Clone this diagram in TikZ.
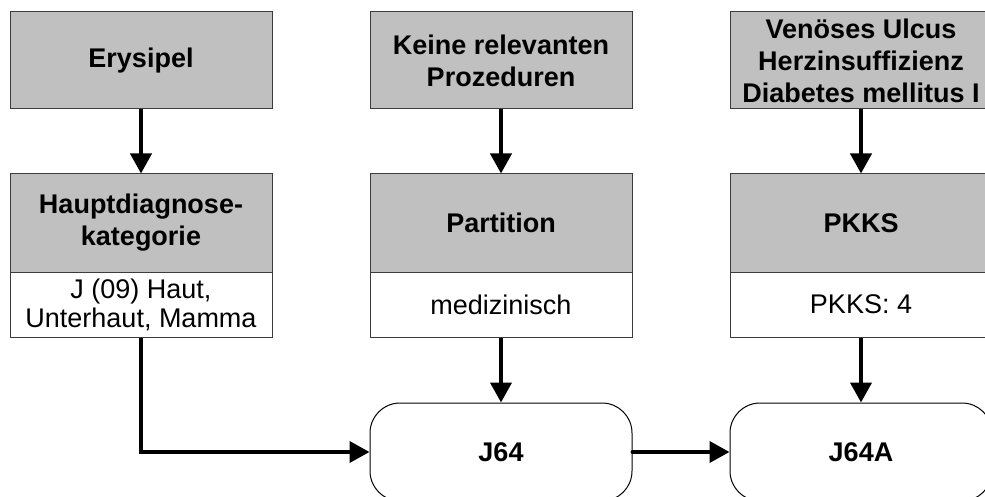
\documentclass[tikz,border=0pt]{standalone}
\usepackage{fontspec}
\setmainfont{Liberation Sans}
\usetikzlibrary{arrows.meta}
\definecolor{silv}{RGB}{192,192,192}
\definecolor{edge}{RGB}{60,60,60}
\begin{document}
\begin{tikzpicture}[x=1pt,y=-1pt,
  box/.style={draw=edge, line width=1pt, minimum width=262pt, inner sep=0pt, align=center},
  head/.style={box, fill=silv, font=\fontsize{27}{32}\selectfont\bfseries},
  val/.style={box, fill=white, font=\fontsize{27}{29}\selectfont},
  res/.style={draw=black, line width=1pt, minimum width=262pt, minimum height=98pt, rounded corners=30pt, inner sep=0pt, align=center, font=\fontsize{27}{32}\selectfont\bfseries},
  arr/.style={line width=4pt, -{Triangle[width=21pt,length=20pt]}}]
\useasboundingbox (0,0) rectangle (985,497);
\fill[white] (0,0) rectangle (985,497);
% left column
\node[head, minimum height=97pt] (erys) at (141,60.5) {Erysipel};
\node[head, minimum height=98pt] (hdk) at (141,223) {Hauptdiagnose-\\kategorie};
\node[val, minimum height=65pt] (hdkval) at (141,304.5) {J (09) Haut,\\Unterhaut, Mamma};
% middle column
\node[head, minimum height=97pt] (keine) at (501,60.5) {Keine relevanten\\Prozeduren};
\node[head, minimum height=98pt] (part) at (501,223) {Partition};
\node[val, minimum height=65pt] (partval) at (501,304.5) {medizinisch};
% right column
\node[head, minimum height=97pt] (venoes) at (861,60.5) {Venöses Ulcus\\Herzinsuffizienz\\Diabetes mellitus I};
\node[head, minimum height=98pt] (pkks) at (861,223) {PKKS};
\node[val, minimum height=65pt] (pkksval) at (861,304.5) {PKKS: 4};
% results
\node[res] (j64) at (501,452) {J64};
\node[res] (j64a) at (861,452) {J64A};
% connectors
\draw[arr] (erys.south) -- (hdk.north);
\draw[arr] (keine.south) -- (part.north);
\draw[arr] (venoes.south) -- (pkks.north);
\draw[arr] (partval.south) -- (j64.north);
\draw[arr] (pkksval.south) -- (j64a.north);
\draw[arr] (hdkval.south) |- (j64.west);
\draw[arr, line cap=round] (j64.east) -- (j64a.west);
\end{tikzpicture}
\end{document}
